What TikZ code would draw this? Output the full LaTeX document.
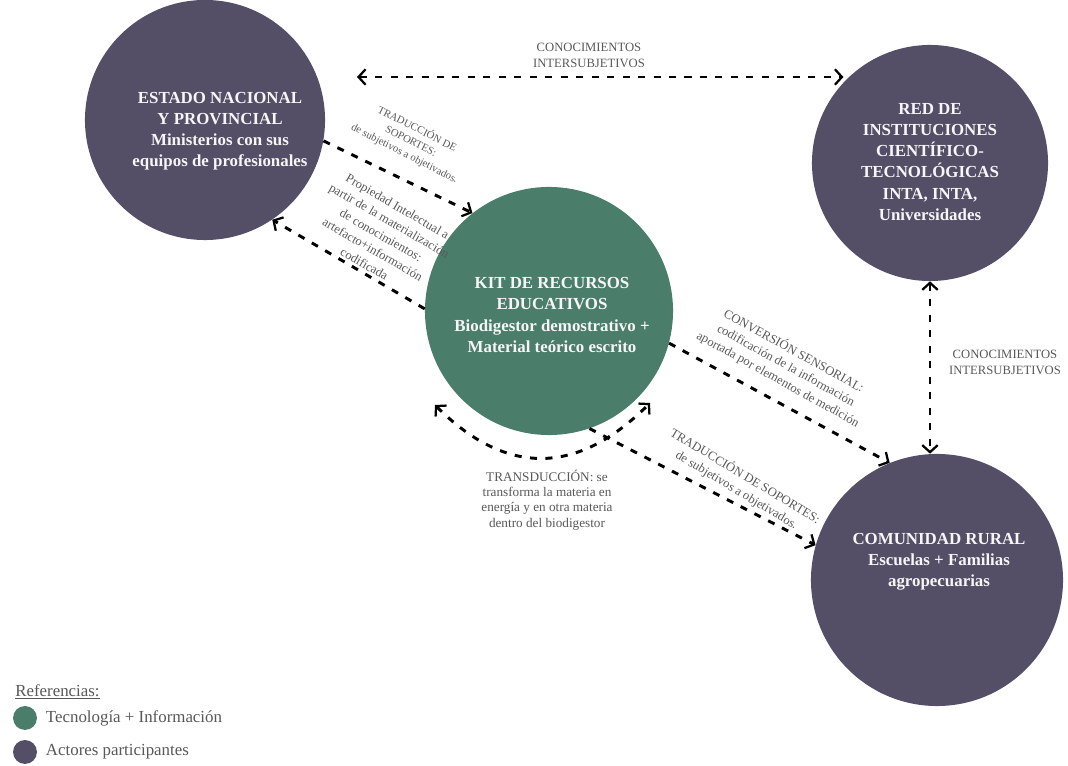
\documentclass[tikz,border=0pt]{standalone}
\usepackage{fontspec}
\setmainfont{Liberation Serif}
\usetikzlibrary{arrows.meta,positioning}

\definecolor{actorcol}{RGB}{84,78,102}
\definecolor{kitcol}{RGB}{74,125,106}
\definecolor{labelcol}{RGB}{88,88,88}

\tikzset{
	actor/.style={circle,fill=actorcol,inner sep=0pt},
	kitnode/.style={circle,fill=kitcol,inner sep=0pt},
	intext/.style={align=center,text=white!93!gray,font=\bfseries\fontsize{12}{15}\selectfont},
	link/.style={line width=2.1pt,dash pattern=on 5pt off 6pt},
	lbl/.style={align=center,text=labelcol,font=\fontsize{9}{11.5}\selectfont,inner sep=0pt},
	legdot/.style={circle,inner sep=0pt,minimum size=17pt},
	legtext/.style={text=labelcol,font=\fontsize{12}{14}\selectfont,inner sep=0pt}
}

\begin{document}
\begin{tikzpicture}[x=0.025cm,y=-0.025cm,>={Straight Barb[length=5pt,width=11pt,line width=1.6pt]}]
	\useasboundingbox (0,0) rectangle (1068,766);
	
	% actors and kit
	\node[actor,minimum size=6cm] (estado) at (205,120) {};
	\node[actor,minimum size=5.9cm] (red) at (930,163) {};
	\node[actor,minimum size=6.3cm] (rural) at (937,580) {};
	\node[kitnode,minimum size=6.2cm] (kit) at (549,311) {};
	
	\node[intext] (estado-t) at (220,131) {ESTADO NACIONAL\\Y PROVINCIAL\\Ministerios con sus\\equipos de profesionales};
	\node[intext] (red-t) at (930,162) {RED DE\\INSTITUCIONES\\CIENTÍFICO-\\TECNOLÓGICAS\\INTA, INTA,\\Universidades};
	\node[intext] (rural-t) at (939,562) {COMUNIDAD RURAL\\Escuelas + Familias\\agropecuarias};
	\node[intext] (kit-t) at (552,315) {KIT DE RECURSOS\\EDUCATIVOS\\Biodigestor demostrativo +\\Material teórico escrito};
	
	% free ends
	\coordinate (topl) at (357,77);
	\coordinate (tdl) at (435,405);
	\coordinate (tdr) at (650,403);
	
	% connectors
	\draw[link,<->] (topl) -- (topl -| red.137);
	\draw[link,->] (estado.-10) -- (kit.128);
	\draw[link,->] (kit.179) -- (estado.-56);
	\draw[link,->] (kit.-15) -- (rural.112);
	\draw[link,->] (kit.-71) -- (rural.164);
	\draw[link,<->] (tdl) .. controls (506,476) and (577,476) .. (tdr);
	\draw[link,<->] (red.south) -- (red.south |- rural.north);
	
	% labels
	\node[lbl] (top-l) at (589,55) {CONOCIMIENTOS\\INTERSUBJETIVOS};
	\node[lbl] (side-l) at (1005,362) {CONOCIMIENTOS\\INTERSUBJETIVOS};
	\node[lbl,rotate=-27,font=\fontsize{7.6}{9.8}\selectfont] (trad-up) at (411,141) {TRADUCCIÓN DE\\SOPORTES:\\de subjetivos a objetivados.};
	\node[lbl,rotate=-30,font=\fontsize{9}{11.8}\selectfont] (prop-l) at (381,235) {Propiedad Intelectual a\\partir de la materialización\\de conocimientos:\\artefacto+información\\codificada};
	\node[lbl,rotate=-29] (conv-l) at (786,365) {CONVERSIÓN SENSORIAL:\\codificación de la información\\aportada por elementos de medición};
	\node[lbl,rotate=-31] (trad-low) at (741,483) {TRADUCCIÓN DE SOPORTES:\\de subjetivos a objetivados.};
	\node[lbl,font=\fontsize{9.4}{10.8}\selectfont] (trans-l) at (547,500) {TRANSDUCCIÓN: se\\transforma la materia en\\energía y en otra materia\\dentro del biodigestor};
	
	% references
	\node[legtext,anchor=west] (ref) at (15,692) {\underline{Referencias:}};
	\node[legdot,fill=kitcol] (leg-kit) at (25,718) {};
	\node[legtext,right=6pt of leg-kit] (leg-kit-t) {Tecnología + Información};
	\node[legdot,fill=actorcol] (leg-act) at (25,752) {};
	\node[legtext,right=6pt of leg-act] (leg-act-t) {Actores participantes};
\end{tikzpicture}
\end{document}
